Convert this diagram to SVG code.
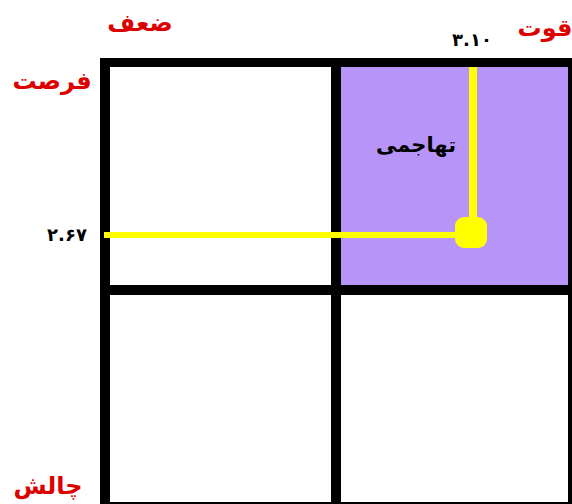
<svg xmlns="http://www.w3.org/2000/svg" width="572" height="504" viewBox="0 0 572 504">
<style>
.lbl{font-family:"DejaVu Sans",sans-serif;font-weight:bold;fill:#dd0000;font-size:24px;text-anchor:middle}
.num{font-family:"DejaVu Sans",sans-serif;font-weight:bold;fill:#000;font-size:18px;text-anchor:middle}
.grid{fill:#000}
.yl{stroke:#ffff00;fill:none}
</style>
<rect width="572" height="504" fill="#fff"/>
<g id="quadrant-so">
<rect x="341" y="67" width="227" height="218" fill="#b794f8"/>
<text x="416" y="152" class="num" style="font-size:21px" direction="rtl">تهاجمی</text>
</g>
<g id="quadrant-wo"><rect x="110" y="67" width="221" height="218" fill="#fff"/></g>
<g id="quadrant-wt"><rect x="110" y="295" width="221" height="207" fill="#fff"/></g>
<g id="quadrant-st"><rect x="341" y="295" width="227" height="207" fill="#fff"/></g>
<g id="frame">
<rect class="grid" x="100" y="58" width="472" height="9"/>
<rect class="grid" x="100" y="58" width="10" height="446"/>
<rect class="grid" x="331" y="58" width="10" height="446"/>
<rect class="grid" x="100" y="285" width="472" height="10"/>
<rect class="grid" x="568" y="58" width="4" height="446"/>
<rect class="grid" x="100" y="502" width="472" height="2"/>
</g>
<g id="labels">
<text class="lbl" x="140" y="31" direction="rtl">ضعف</text>
<text class="lbl" x="52" y="89" direction="rtl">فرصت</text>
<text class="lbl" x="545" y="36" direction="rtl">قوت</text>
<text class="lbl" x="48" y="494" direction="rtl">چالش</text>
<text class="num" x="472" y="46">۳.۱۰</text>
<text class="num" x="67" y="241">۲.۶۷</text>
</g>
<g id="connectors">
<line class="yl" x1="473" y1="67" x2="473" y2="230" stroke-width="8"/>
<line class="yl" x1="104" y1="235" x2="465" y2="235" stroke-width="6"/>
<rect x="455" y="217" width="32" height="31" rx="9" fill="#ffff00"/>
</g>
</svg>
